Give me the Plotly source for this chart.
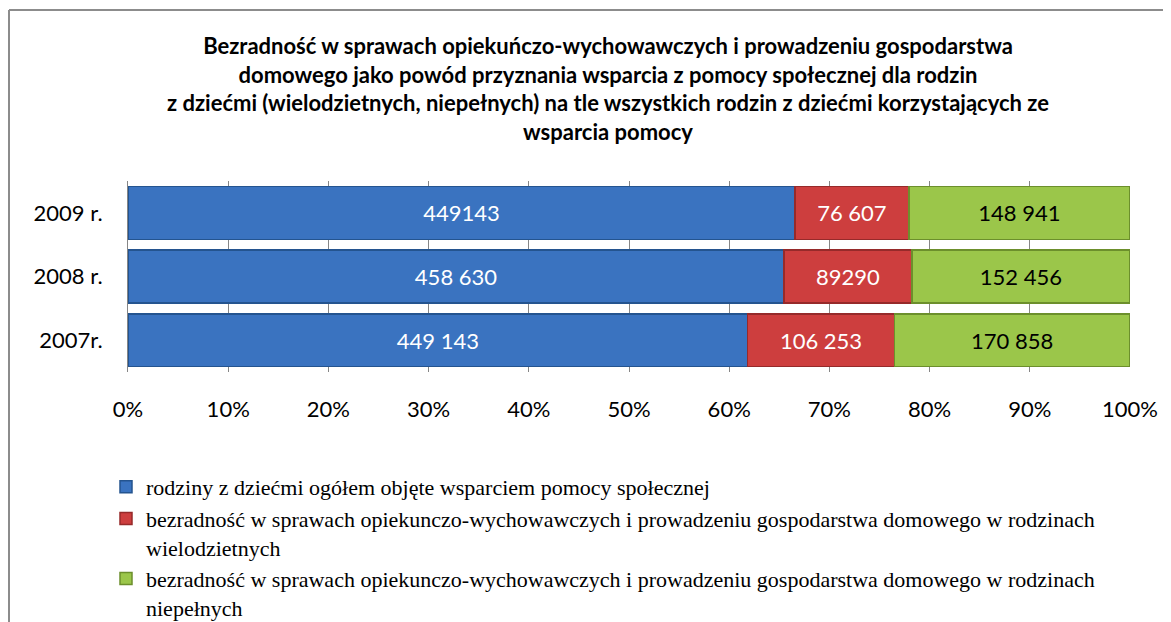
import plotly.graph_objects as go

categories = ["2007r.", "2008 r.", "2009 r."]
series_names = [
    "rodziny z dziećmi ogółem objęte wsparciem pomocy społecznej",
    "bezradność w sprawach opiekunczo-wychowawczych i prowadzeniu gospodarstwa domowego w rodzinach<br>wielodzietnych",
    "bezradność w sprawach opiekunczo-wychowawczych i prowadzeniu gospodarstwa domowego w rodzinach<br>niepełnych",
]
ogolem = [449143, 458630, 449143]
wielodzietne = [106253, 89290, 76607]
niepelne = [170858, 152456, 148941]
labels_ogolem = ["449 143", "458 630", "449143"]
labels_wielo = ["106 253", "89290", "76 607"]
labels_niepel = ["170 858", "152 456", "148 941"]

colors = ["#3A73C0", "#CD3E3E", "#9BC64A"]
line_colors = ["#24548F", "#962A2A", "#6C8F2C"]
text_colors = ["white", "white", "black"]
groups = ["a", "b", "b"]

# page body has an 8px margin: figure coordinates = page coordinates - 8
OFF = 8
W, H = 1171 - OFF, 622 - OFF
L, R, T, B = 128 - OFF, 1171 - 1130, 181 - OFF, 622 - 372
pw, ph = W - L - R, H - T - B


def px_x(page_x):
    return (page_x - OFF - L) / pw


def px_y(page_y):
    return (H - B - (page_y - OFF)) / ph


fig = go.Figure()
for name, vals, labs, c, lc, tc, g in zip(series_names, [ogolem, wielodzietne, niepelne],
                                          [labels_ogolem, labels_wielo, labels_niepel],
                                          colors, line_colors, text_colors, groups):
    fig.add_trace(go.Bar(
        y=categories, x=vals, orientation="h", name=name, legendgroup=g,
        marker=dict(color=c, line=dict(color=lc, width=1.5)),
        text=labs, textposition="inside", insidetextanchor="middle",
        textfont=dict(family="Lato", size=22, color=tc),
        textangle=0, hoverinfo="skip",
    ))

fig.update_layout(
    width=W, height=H,
    barmode="stack", barnorm="percent", bargap=0.17,
    margin=dict(l=L, r=R, t=T, b=B, autoexpand=False),
    paper_bgcolor="white", plot_bgcolor="white",
    title=dict(
        text="<b>Bezradność w sprawach opiekuńczo-wychowawczych i prowadzeniu gospodarstwa<br>"
             "domowego jako powód przyznania wsparcia z pomocy społecznej dla rodzin<br>"
             "z dziećmi (wielodzietnych, niepełnych) na tle wszystkich rodzin z dziećmi korzystających ze<br>"
             "wsparcia pomocy</b>",
        x=(608 - OFF) / W, xanchor="center", xref="container",
        y=1 - 46 / H, yanchor="top", yref="container",
        font=dict(family="Lato", size=22, color="black"),
    ),
    xaxis=dict(
        range=[0, 100], dtick=10, ticksuffix="%", showgrid=True,
        gridcolor="#868686", gridwidth=1, zeroline=False, showline=False,
        tickfont=dict(family="Lato", size=22, color="black"),
        ticklabelstandoff=22, fixedrange=True,
    ),
    yaxis=dict(
        showline=True, linecolor="#868686", linewidth=1,
        tickfont=dict(family="Lato", size=22, color="black"),
        ticklabelstandoff=20, fixedrange=True,
    ),
    legend=dict(
        orientation="v", x=px_x(106), xanchor="left",
        y=px_y(466), yanchor="top", traceorder="grouped", tracegroupgap=0,
        valign="top",
        font=dict(family="Liberation Serif", size=22, color="black"),
        bgcolor="rgba(0,0,0,0)",
    ),
    showlegend=True,
)

# chart frame (top and left border)
fig.add_shape(type="line", xref="paper", yref="paper",
              x0=px_x(9), x1=px_x(9), y0=px_y(640), y1=px_y(10),
              line=dict(color="#8C8C8C", width=2))
fig.add_shape(type="line", xref="paper", yref="paper",
              x0=px_x(9), x1=px_x(1190), y0=px_y(10), y1=px_y(10),
              line=dict(color="#8C8C8C", width=2))

fig.write_html("out.html")
